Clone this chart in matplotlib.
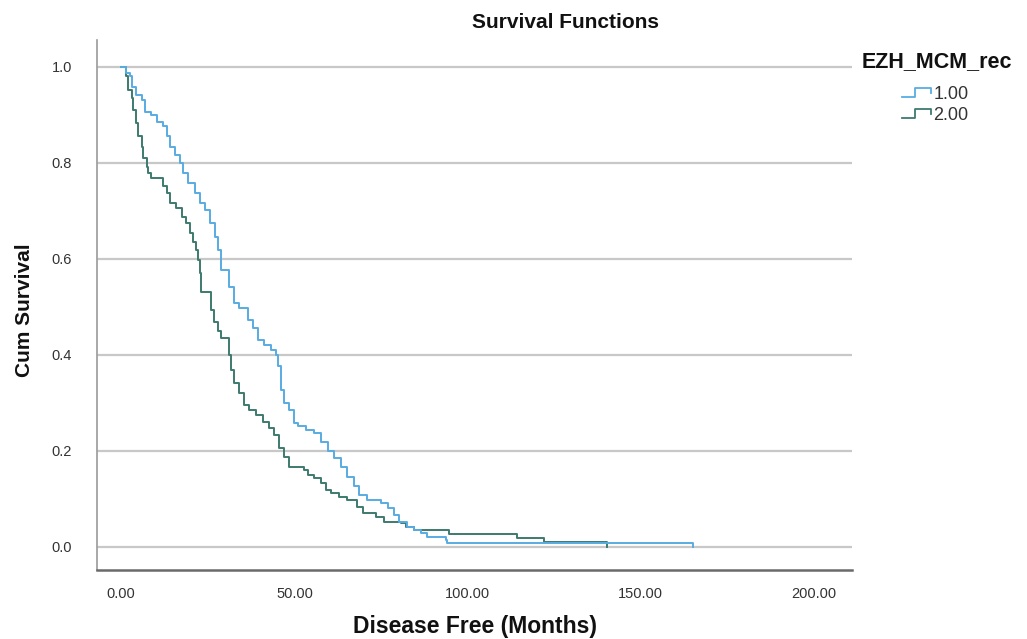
import matplotlib
matplotlib.use("Agg")
import matplotlib.pyplot as plt
from matplotlib.lines import Line2D
from matplotlib.legend_handler import HandlerBase

plt.rcParams['font.family'] = ['Liberation Sans', 'DejaVu Sans']

# ---- data ----
groups = ["1.00", "2.00"]
legend_title = "EZH_MCM_rec"

times1 = [0, 1.5, 2.5, 3.0, 4.4, 5.9, 6.8, 8.7, 10.2, 12.1, 13.1, 14.0, 15.5, 16.9,
          17.9, 19.3, 21.2, 22.7, 24.1, 25.6, 27.0, 28.0, 28.8, 31.2, 32.7, 34.1,
          36.5, 38.0, 39.4, 41.3, 43.2, 44.7, 45.2, 46.1, 47.1, 48.5, 49.9, 50.9,
          53.3, 55.7, 57.6, 59.6, 61.5, 63.4, 65.3, 67.2, 68.7, 71.1, 74.9, 76.9,
          78.8, 80.2, 82.6, 84.5, 86.5, 88.4, 93.7, 94.1, 165.0]
surv1 = [1.0, 0.987, 0.980, 0.959, 0.942, 0.931, 0.907, 0.900, 0.886, 0.876, 0.855,
         0.834, 0.817, 0.799, 0.779, 0.758, 0.737, 0.716, 0.702, 0.674, 0.646, 0.619,
         0.577, 0.542, 0.508, 0.497, 0.473, 0.456, 0.431, 0.421, 0.410, 0.400, 0.376,
         0.327, 0.299, 0.285, 0.258, 0.251, 0.244, 0.237, 0.219, 0.199, 0.185, 0.167,
         0.146, 0.126, 0.108, 0.098, 0.091, 0.081, 0.067, 0.053, 0.042, 0.035, 0.029,
         0.021, 0.014, 0.008, 0.0]

times2 = [0, 1.5, 2.0, 3.0, 3.5, 4.4, 4.9, 5.9, 6.3, 7.3, 7.8, 8.7, 12.1, 13.1, 14.0,
          15.9, 17.4, 18.8, 19.8, 20.7, 21.7, 22.2, 22.7, 23.1, 25.9, 26.9, 27.9,
          28.8, 31.2, 31.7, 32.7, 34.1, 35.5, 37.0, 38.9, 40.8, 42.7, 44.2, 45.6,
          47.1, 48.5, 52.8, 53.8, 55.7, 57.6, 59.1, 60.5, 62.9, 65.3, 68.2, 69.7,
          73.5, 75.9, 80.7, 82.1, 84.5, 94.6, 114.3, 122.0, 140.3]
surv2 = [1.0, 0.980, 0.952, 0.935, 0.910, 0.883, 0.855, 0.834, 0.810, 0.792, 0.778,
         0.768, 0.751, 0.737, 0.716, 0.706, 0.688, 0.674, 0.654, 0.636, 0.619, 0.598,
         0.570, 0.532, 0.494, 0.469, 0.449, 0.435, 0.400, 0.369, 0.341, 0.320, 0.296,
         0.285, 0.275, 0.261, 0.247, 0.233, 0.206, 0.188, 0.167, 0.160, 0.150, 0.143,
         0.133, 0.119, 0.112, 0.105, 0.098, 0.084, 0.070, 0.063, 0.053, 0.049, 0.042,
         0.035, 0.027, 0.018, 0.010, 0.0]

xticks = [0, 50, 100, 150, 200]
xtick_labels = ["0.00", "50.00", "100.00", "150.00", "200.00"]
yticks = [0.0, 0.2, 0.4, 0.6, 0.8, 1.0]
ytick_labels = ["0.0", "0.2", "0.4", "0.6", "0.8", "1.0"]

colors = ["#58ACE2", "#3D7A6F"]

# ---- figure ----
W, H = 1027, 639
fig = plt.figure(figsize=(W / 100, H / 100), dpi=100)
ax = fig.add_axes([97 / W, 1 - 570 / H, (852 - 97) / W, (570 - 40) / H])

ax.set_xlim(-7, 211)
ax.set_ylim(-0.048, 1.056)

for y in yticks:
    ax.axhline(y, color="#c8c8c8", lw=1.6, zorder=1)

ax.plot(times1, surv1, drawstyle="steps-post", color=colors[0], lw=1.4, zorder=3)
ax.plot(times2, surv2, drawstyle="steps-post", color=colors[1], lw=1.4, zorder=2)

ax.set_xticks(xticks)
ax.set_xticklabels(xtick_labels)
ax.set_yticks(yticks)
ax.set_yticklabels(ytick_labels)
ax.tick_params(axis="both", length=0, labelsize=10.5, colors="#333333")
ax.tick_params(axis="y", pad=18)
ax.tick_params(axis="x", pad=12)

for s in ["top", "right"]:
    ax.spines[s].set_visible(False)
ax.spines["left"].set_color("#9a9a9a")
ax.spines["left"].set_linewidth(1.2)
ax.spines["bottom"].set_color("#6a6a6a")
ax.spines["bottom"].set_linewidth(1.8)

fig.text(565 / W, 1 - 23 / H, "Survival Functions", ha="center", va="center",
         fontsize=15, fontweight="bold", color="#111111")
fig.text(475 / W, 1 - 627 / H, "Disease Free (Months)", ha="center", va="center",
         fontsize=16.5, fontweight="bold", color="#111111")
fig.text(25 / W, 1 - 310 / H, "Cum Survival", ha="center", va="center",
         rotation=90, fontsize=15, fontweight="bold", color="#111111")

# legend title
fig.text(937 / W, 1 - 62 / H, legend_title, ha="center", va="center",
         fontsize=15.5, fontweight="bold", color="#111111")


class StepHandler(HandlerBase):
    def create_artists(self, legend, orig_handle, xdescent, ydescent, width,
                       height, fontsize, trans):
        x0 = -xdescent
        xs = [x0, x0 + width * 0.45, x0 + width * 0.45, x0 + width, x0 + width]
        ys = [height * 0.15, height * 0.15, height * 0.85, height * 0.85, height * 0.45]
        ln = Line2D(xs, ys, color=orig_handle.get_color(), lw=1.3)
        ln.set_transform(trans)
        return [ln]


handles = [Line2D([], [], color=c) for c in colors]
leg = fig.legend(handles, groups, loc="upper left",
                 bbox_to_anchor=(902 / W, 1 - 86 / H), frameon=False,
                 fontsize=13, handler_map={Line2D: StepHandler()},
                 handlelength=1.6, handletextpad=0.15, labelspacing=0.22,
                 borderaxespad=0, borderpad=0)
for t in leg.get_texts():
    t.set_color("#333333")

fig.savefig("out.png", dpi=100)
